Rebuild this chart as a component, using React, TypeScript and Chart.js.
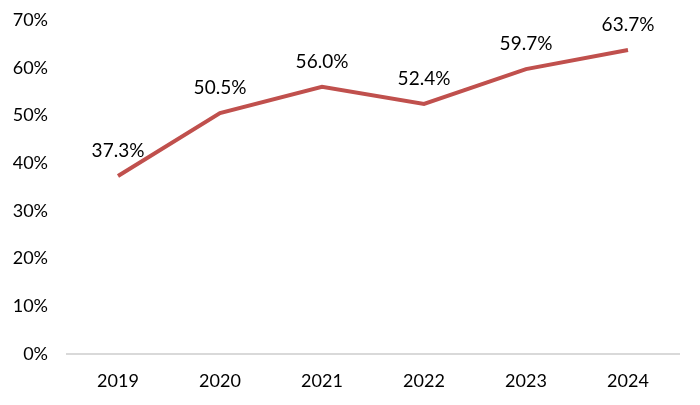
import React, { useEffect, useRef } from "react";
import { Chart, registerables } from "chart.js";

Chart.register(...registerables);

const categories = ["2019", "2020", "2021", "2022", "2023", "2024"];
const values = [37.3, 50.5, 56.0, 52.4, 59.7, 63.7];
const yTicks = [0, 10, 20, 30, 40, 50, 60, 70];

const FONT = "Lato, 'Open Sans', sans-serif";

const labelPlugin = {
  id: "pointLabels",
  afterDatasetsDraw(chart: any) {
    const ctx = chart.ctx;
    const meta = chart.getDatasetMeta(0);
    ctx.save();
    ctx.font = `19px ${FONT}`;
    ctx.fillStyle = "#000000";
    ctx.textAlign = "center";
    ctx.textBaseline = "middle";
    meta.data.forEach((pt: any, i: number) => {
      ctx.fillText(values[i].toFixed(1) + "%", pt.x, pt.y - 25);
    });
    ctx.restore();
  },
};

export default function App() {
  const ref = useRef<HTMLCanvasElement>(null);
  useEffect(() => {
    if (!ref.current) return;
    const chart = new Chart(ref.current, {
      type: "line",
      data: {
        labels: categories,
        datasets: [
          {
            data: values,
            borderColor: "#C0504D",
            borderWidth: 4,
            pointRadius: 0,
            tension: 0,
            fill: false,
          },
        ],
      },
      options: {
        animation: false,
        responsive: false,
        maintainAspectRatio: false,
        layout: { padding: { top: 20, right: 21, left: 0, bottom: 0 } },
        plugins: { legend: { display: false }, tooltip: { enabled: false } },
        scales: {
          x: {
            offset: true,
            grid: { display: false, drawTicks: false },
            border: { display: true, color: "#D9D9D9", width: 2 },
            ticks: { color: "#000", font: { family: FONT, size: 18 }, padding: 16 },
            afterFit: (s: any) => {
              s.height = 51;
              s.paddingLeft = 0;
              s.paddingRight = 0;
            },
          },
          y: {
            min: 0,
            max: 70,
            afterBuildTicks: (s: any) => {
              s.ticks = yTicks.map((v) => ({ value: v }));
            },
            grid: { display: false, drawTicks: false },
            border: { display: false },
            ticks: {
              color: "#000",
              font: { family: FONT, size: 18 },
              padding: 19,
              callback: (v: any) => v + "%",
            },
            afterFit: (s: any) => {
              s.width = 67;
              s.paddingTop = 0;
              s.paddingBottom = 0;
            },
          },
        },
      },
      plugins: [labelPlugin],
    });
    return () => chart.destroy();
  }, []);
  return (
    <div style={{ position: "fixed", left: 0, top: 0, width: 700, height: 405, background: "#fff" }}>
      <canvas ref={ref} width={700} height={405} style={{ width: 700, height: 405 }} />
    </div>
  );
}
